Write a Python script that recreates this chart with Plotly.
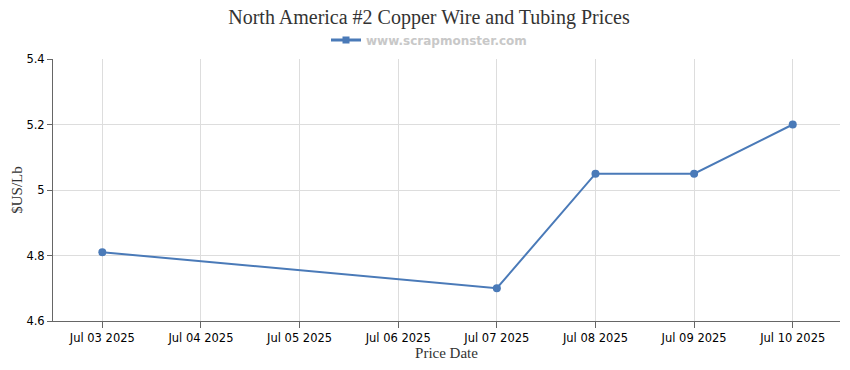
import plotly.graph_objects as go

dates = ["2025-07-03", "2025-07-07", "2025-07-08", "2025-07-09", "2025-07-10"]
prices = [4.81, 4.70, 5.05, 5.05, 5.20]
tick_dates = ["2025-07-03", "2025-07-04", "2025-07-05", "2025-07-06",
              "2025-07-07", "2025-07-08", "2025-07-09", "2025-07-10"]
tick_labels = ["Jul 03 2025", "Jul 04 2025", "Jul 05 2025", "Jul 06 2025",
               "Jul 07 2025", "Jul 08 2025", "Jul 09 2025", "Jul 10 2025"]
y_ticks = [4.6, 4.8, 5.0, 5.2, 5.4]
y_labels = ["4.6", "4.8", "5", "5.2", "5.4"]
series_name = "www.scrapmonster.com"

color = "#4a7ab8"
W, H = 842, 362  # page body has an 8px margin

fig = go.Figure()
fig.add_trace(go.Scatter(
    x=dates, y=prices, mode="lines+markers",
    name=series_name, showlegend=False,
    line=dict(color=color, width=2),
    marker=dict(color=color, size=8, symbol="circle"),
))
# legend entry (square marker like the reference)
fig.add_trace(go.Scatter(
    x=[None], y=[None], mode="lines+markers",
    name="<b>" + series_name + "</b>",
    line=dict(color=color, width=3),
    marker=dict(color=color, size=7, symbol="square"),
))

fig.update_layout(
    width=W, height=H,
    paper_bgcolor="white", plot_bgcolor="white",
    margin=dict(l=45, r=10, t=51, b=49, autoexpand=False),
    title=dict(text="North America #2 Copper Wire and Tubing Prices",
               x=0.5, xanchor="center", yref="container", y=1 - 2 / H, yanchor="top",
               font=dict(family="Liberation Serif, Times New Roman, serif", size=20, color="#333333")),
    showlegend=True,
    legend=dict(orientation="h", x=0.5, xanchor="center", xref="container",
                yref="container", y=1 - 32 / H, yanchor="middle",
                font=dict(family="DejaVu Sans, Verdana, sans-serif", size=12, color="#c8c8c8"),
                itemwidth=30, bgcolor="rgba(0,0,0,0)"),
    xaxis=dict(
        range=["2025-07-02 12:00", "2025-07-10 11:30"],
        tickvals=tick_dates, ticktext=tick_labels,
        showgrid=True, gridcolor="#dddddd", gridwidth=1,
        showline=True, linecolor="#666666", linewidth=1,
        ticks="outside", tickcolor="#666666", ticklen=6,
        tickfont=dict(family="DejaVu Sans, Verdana, sans-serif", size=11.5, color="#000000"),
        title=dict(text="Price Date", standoff=2,
                   font=dict(family="Liberation Serif, Times New Roman, serif", size=15, color="#333333")),
        zeroline=False, automargin=False,
    ),
    yaxis=dict(
        range=[4.6, 5.4],
        tickvals=y_ticks, ticktext=y_labels,
        showgrid=True, gridcolor="#dddddd", gridwidth=1,
        showline=True, linecolor="#666666", linewidth=1,
        ticks="outside", tickcolor="#666666", ticklen=5,
        tickfont=dict(family="DejaVu Sans, Verdana, sans-serif", size=11.5, color="#000000"),
        title=dict(text="$US/Lb", standoff=0,
                   font=dict(family="Liberation Serif, Times New Roman, serif", size=15, color="#333333")),
        zeroline=False, automargin=False,
    ),
)

fig.write_html("out.html")
